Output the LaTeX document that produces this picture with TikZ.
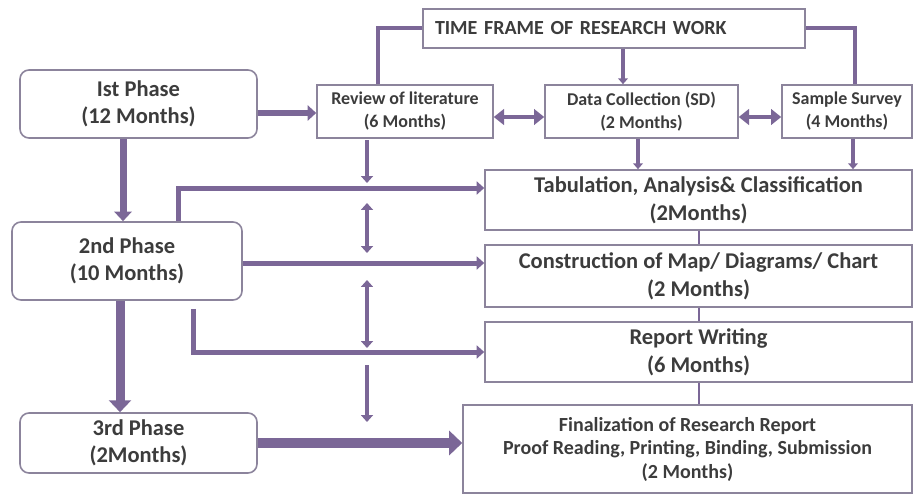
\documentclass[tikz,border=0pt]{standalone}
\usepackage{fontspec}
\setmainfont{Carlito}
\usetikzlibrary{arrows.meta}
\definecolor{linec}{HTML}{7B6797}
\definecolor{boxc}{HTML}{8C849C}
\definecolor{txtc}{HTML}{3C3C3C}
\begin{document}
\begin{tikzpicture}[x=1pt,y=-1pt,>={Triangle[length=2pt 1.1, width=2pt 2.2]},
  phase/.style={draw=boxc, line width=1.6pt, rounded corners=9pt, align=center, text=txtc, inner sep=0pt, font=\bfseries\fontsize{22.5}{27}\selectfont},
  task/.style={draw=boxc, line width=1.6pt, align=center, text=txtc, inner sep=0pt, font=\bfseries\fontsize{22.5}{28}\selectfont},
  small/.style={task, font=\bfseries\fontsize{18}{23}\selectfont},
  flow/.style={draw=linec, line width=#1},
  both/.style={draw=linec, line width=#1, {Triangle[length=3pt 1.6, width=3pt 2.8]}-{Triangle[length=3pt 1.6, width=3pt 2.8]}},
  link/.style={draw=linec, line width=#1}]
\useasboundingbox (0,0) rectangle (920,495);
\node [task, minimum width=382, minimum height=39, inner xsep=12pt, text width=358, align=left, font=\bfseries\fontsize{20}{22}\selectfont] (title) at (614,28.5) {TIME FRAME OF RESEARCH WORK};
\node [small, minimum width=176, minimum height=53] (rev) at (405,111.5) {Review of literature\\(6 Months)};
\node [small, minimum width=193, minimum height=53] (data) at (641.5,111.5) {Data Collection (SD)\\(2 Months)};
\node [small, minimum width=130, minimum height=53] (survey) at (847,111.5) {Sample Survey\\(4 Months)};
\node [task, minimum width=427, minimum height=60] (tab) at (698.5,200) {Tabulation, Analysis\& Classification\\(2Months)};
\node [task, minimum width=427, minimum height=62] (cons) at (698.5,276) {Construction of Map/ Diagrams/ Chart\\(2 Months)};
\node [task, minimum width=427, minimum height=60] (rep) at (698.5,352) {Report Writing\\(6 Months)};
\node [task, minimum width=449, minimum height=88, font=\bfseries\fontsize{20}{23.5}\selectfont] (fin) at (687.5,449) {Finalization of Research Report\\Proof Reading, Printing, Binding, Submission\\(2 Months)};
\node [phase, minimum width=237, minimum height=68] (p1) at (138.5,104) {Ist Phase\\(12 Months)};
\node [phase, minimum width=230, minimum height=78] (p2) at (127,261) {2nd Phase\\(10 Months)};
\node [phase, minimum width=237, minimum height=60] (p3) at (138.5,443) {3rd Phase\\(2Months)};
\coordinate (v1a) at (367,140);
\coordinate (v1b) at (367,183);
\coordinate (v2a) at (367,203);
\coordinate (v2b) at (367,253);
\coordinate (v3a) at (367,280);
\coordinate (v3b) at (367,348);
\coordinate (v4a) at (367,365);
\coordinate (v4b) at (367,422);
\draw [link=4pt] (title.west) -| ([xshift=-27pt]rev.north);
\draw [link=4pt] (title.east) -| ([xshift=8pt]survey.north);
\draw [flow=3.5pt, ->] ([xshift=9pt]title.south) -- ([xshift=9pt]title.south |- data.north);
\draw [both=4.5pt] ([yshift=-5.5pt]rev.east) -- ([yshift=-5.5pt]data.west);
\draw [both=4.5pt] ([yshift=-5.5pt]data.east) -- ([yshift=-5.5pt]survey.west);
\draw [flow=3.5pt, ->] ([xshift=-3.5pt]data.south) -- ([xshift=-3.5pt]data.south |- tab.north);
\draw [flow=3.5pt, ->] ([xshift=6pt]survey.south) -- ([xshift=6pt]survey.south |- tab.north);
\draw [link=2pt] (tab.south) -- (cons.north);
\draw [link=2pt] (cons.south) -- (rep.north);
\draw [link=2pt] (rep.south) -- (rep.south |- fin.north);
\draw [flow=6pt, ->] ([yshift=-9pt]p1.east) -- ([yshift=-9pt]p1.east -| rev.west);
\draw [flow=7pt, ->] ([xshift=-15.5pt]p1.south) -- ([xshift=-15.5pt]p1.south |- p2.north);
\draw [flow=9pt, ->] ([xshift=-7pt]p2.south) -- ([xshift=-7pt]p2.south |- p3.north);
\draw [flow=5pt, ->] ([xshift=51pt]p2.north) |- ([yshift=12pt]tab.west);
\draw [flow=5pt, ->] ([yshift=-2pt]p2.east) -- ([yshift=-2pt]p2.east -| cons.west);
\draw [flow=5pt, ->] ([xshift=66pt,yshift=-8pt]p2.south) |- (rep.west);
\draw [flow=10pt, ->] (p3.east) -- (p3.east -| fin.west);
\draw [flow=4.5pt, ->] (v1a) -- (v1b);
\draw [flow=4.5pt, <->] (v2a) -- (v2b);
\draw [flow=4.5pt, <->] (v3a) -- (v3b);
\draw [flow=4.5pt, ->] (v4a) -- (v4b);
\end{tikzpicture}
\end{document}
